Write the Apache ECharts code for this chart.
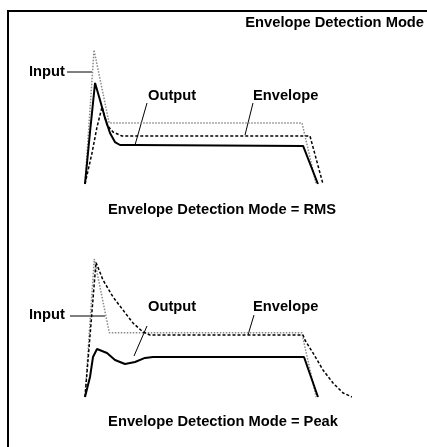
<!DOCTYPE html>
<html>
<head>
<meta charset="utf-8">
<script src="https://cdn.jsdelivr.net/npm/echarts@6/dist/echarts.min.js"></script>
<style>html,body{margin:0;padding:0;background:#fff}#c{width:427px;height:447px}</style>
</head>
<body>
<div id="c"></div>
<script>
// Time in arbitrary units (0..100), amplitude normalised (0..1)
const titleText = 'Envelope Detection Mode';
const subtitleRMS = 'Envelope Detection Mode = RMS';
const subtitlePeak = 'Envelope Detection Mode = Peak';
const labelNames = ['Input', 'Output', 'Envelope'];

// RMS mode
const rmsInput = [[0,0],[3.4,1.0],[9.1,0.455],[81.9,0.455],[87.2,0]];
const rmsOutput = [[0,0],[1.9,0.39],[3.8,0.754],[5.66,0.627],[7.55,0.493],[9.43,0.381],[11.3,0.313],[13.2,0.291],[18.9,0.291],[82.3,0.284],[87.9,0]];
const rmsEnvelope = [[0,0],[2.64,0.231],[4.53,0.425],[6.42,0.575],[8.3,0.44],[10.57,0.388],[13.96,0.358],[84.9,0.358],[89.8,0]];

// Peak mode
const peakInput = [[0,0],[3.5,1.0],[9.17,0.466],[81.8,0.466],[87.2,0]];
const peakOutput = [[0,0],[1.89,0.145],[3.02,0.29],[4.53,0.348],[5.28,0.355],[8.3,0.319],[11.32,0.268],[15.09,0.239],[18.87,0.254],[22.64,0.283],[25.66,0.29],[82.64,0.29],[87.92,0]];
const peakEnvelope = [[0,0],[4.15,0.975],[6.79,0.848],[10.57,0.725],[14.34,0.63],[18.11,0.536],[21.89,0.471],[24.53,0.449],[82.26,0.449],[83.0,0.413],[86.04,0.319],[89.8,0.196],[93.6,0.101],[97.4,0.029],[100.8,0]];

const chart = echarts.init(document.getElementById('c'));
const FONT = '"Liberation Sans", Arial, Helvetica, sans-serif';
const FS = 14.7;

function mk(name, data, gi, color, width, type, z){
  return {name:name, type:'line', data:data, xAxisIndex:gi, yAxisIndex:gi, z:z,
    symbol:'none', silent:true, lineStyle:{color:color, width:width, type:type}};
}
function txt(text, x, y, align){
  return {type:'text', x:x, y:y, style:{text:text, fill:'#000', font:'bold '+FS+'px '+FONT, textAlign:align||'left', textVerticalAlign:'middle'}};
}
function ln(x1,y1,x2,y2,w){
  return {type:'line', shape:{x1:x1,y1:y1,x2:x2,y2:y2}, style:{stroke:'#000', lineWidth:w||1}};
}

chart.setOption({
  animation:false,
  backgroundColor:'#fff',
  grid:[{left:85, top:50, width:265, height:134},{left:85, top:259, width:265, height:138}],
  xAxis:[{type:'value', gridIndex:0, min:0, max:100, show:false},{type:'value', gridIndex:1, min:0, max:100, show:false}],
  yAxis:[{type:'value', gridIndex:0, min:0, max:1, show:false},{type:'value', gridIndex:1, min:0, max:1, show:false}],
  series:[
    mk(labelNames[0], rmsInput, 0, '#888', 1.5, [1.5,1.5], 2),
    mk(labelNames[2], rmsEnvelope, 0, '#000', 1.5, [3,2], 3),
    mk(labelNames[1], rmsOutput, 0, '#000', 2, 'solid', 4),
    mk(labelNames[0], peakInput, 1, '#888', 1.5, [1.5,1.5], 2),
    mk(labelNames[2], peakEnvelope, 1, '#000', 1.5, [3,2], 3),
    mk(labelNames[1], peakOutput, 1, '#000', 2, 'solid', 4)
  ],
  graphic:[
    ln(8,11,427,11,2),
    ln(8,10,8,447,2),
    txt(titleText, 424, 23, 'right'),
    txt(labelNames[0], 29, 72),
    ln(67,72,92,72,1),
    txt(labelNames[1], 148, 96),
    ln(147,103,135,145,1),
    txt(labelNames[2], 253, 96),
    ln(253,103,245,135,1),
    txt(subtitleRMS, 222, 210, 'center'),
    txt(labelNames[0], 29, 315),
    ln(70,316,105,316,1),
    txt(labelNames[1], 148, 307),
    ln(147,326,134,356,1),
    txt(labelNames[2], 253, 307),
    ln(254,315,248,335,1),
    txt(subtitlePeak, 223, 422, 'center')
  ]
});
</script>
</body>
</html>
